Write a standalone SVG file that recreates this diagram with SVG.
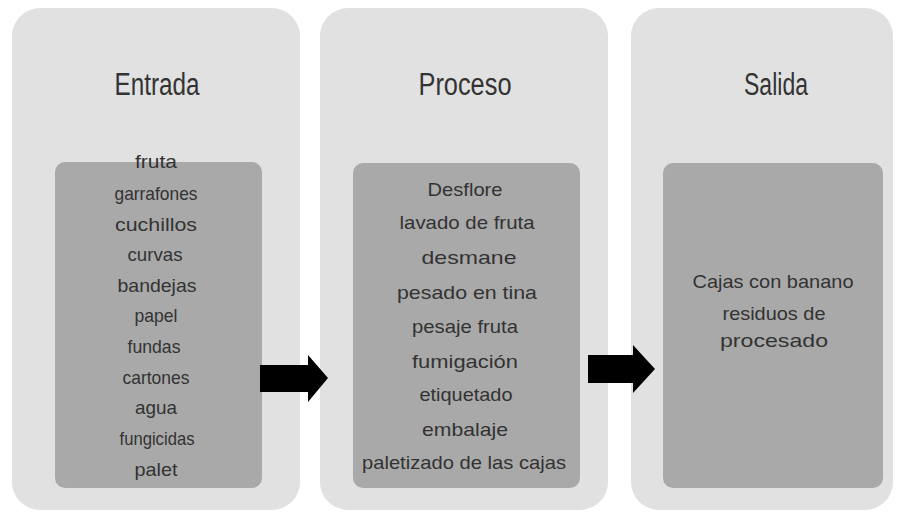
<svg xmlns="http://www.w3.org/2000/svg" width="904" height="516" viewBox="0 0 904 516">
<style>
.panel{fill:#e1e1e1;}
.inner{fill:#a9a9a9;}
.hdr{font-family:"Liberation Sans",Arial,sans-serif;font-size:31px;fill:#333;text-anchor:middle;}
.txt{font-family:"Liberation Sans",Arial,sans-serif;font-size:19px;fill:#333;text-anchor:middle;}
.arrow{fill:#000;}
</style>
<rect width="904" height="516" fill="#ffffff"/>
<g id="entrada">
<rect class="panel" x="12" y="8" width="288" height="502" rx="28"/>
<rect class="inner" x="55" y="162" width="207" height="326" rx="10"/>
<text class="hdr" x="157" y="95" textLength="85" lengthAdjust="spacingAndGlyphs">Entrada</text>
<text class="txt" x="156" y="168" textLength="42" lengthAdjust="spacingAndGlyphs">fruta</text>
<text class="txt" x="156" y="200" textLength="83" lengthAdjust="spacingAndGlyphs">garrafones</text>
<text class="txt" x="156" y="231" textLength="82" lengthAdjust="spacingAndGlyphs">cuchillos</text>
<text class="txt" x="155" y="261" textLength="55" lengthAdjust="spacingAndGlyphs">curvas</text>
<text class="txt" x="157" y="292" textLength="79" lengthAdjust="spacingAndGlyphs">bandejas</text>
<text class="txt" x="156" y="322" textLength="43" lengthAdjust="spacingAndGlyphs">papel</text>
<text class="txt" x="154" y="353" textLength="53" lengthAdjust="spacingAndGlyphs">fundas</text>
<text class="txt" x="156" y="384" textLength="67" lengthAdjust="spacingAndGlyphs">cartones</text>
<text class="txt" x="156" y="414" textLength="42" lengthAdjust="spacingAndGlyphs">agua</text>
<text class="txt" x="157" y="445" textLength="75" lengthAdjust="spacingAndGlyphs">fungicidas</text>
<text class="txt" x="156" y="476" textLength="43" lengthAdjust="spacingAndGlyphs">palet</text>
</g>
<g id="proceso">
<rect class="panel" x="320" y="8" width="288" height="502" rx="28"/>
<rect class="inner" x="353" y="163" width="227" height="325" rx="10"/>
<text class="hdr" x="465" y="95" textLength="93" lengthAdjust="spacingAndGlyphs">Proceso</text>
<text class="txt" x="465" y="196" textLength="75" lengthAdjust="spacingAndGlyphs">Desflore</text>
<text class="txt" x="467" y="229" textLength="135" lengthAdjust="spacingAndGlyphs">lavado de fruta</text>
<text class="txt" x="469" y="264" textLength="95" lengthAdjust="spacingAndGlyphs">desmane</text>
<text class="txt" x="467" y="299" textLength="140" lengthAdjust="spacingAndGlyphs">pesado en tina</text>
<text class="txt" x="465" y="333" textLength="106" lengthAdjust="spacingAndGlyphs">pesaje fruta</text>
<text class="txt" x="465" y="368" textLength="106" lengthAdjust="spacingAndGlyphs">fumigación</text>
<text class="txt" x="466" y="401" textLength="93" lengthAdjust="spacingAndGlyphs">etiquetado</text>
<text class="txt" x="465" y="436" textLength="86" lengthAdjust="spacingAndGlyphs">embalaje</text>
<text class="txt" x="464" y="469" textLength="204" lengthAdjust="spacingAndGlyphs">paletizado de las cajas</text>
</g>
<g id="salida">
<rect class="panel" x="631" y="8" width="262" height="502" rx="28"/>
<rect class="inner" x="663" y="163" width="220" height="325" rx="10"/>
<text class="hdr" x="776" y="95" textLength="64" lengthAdjust="spacingAndGlyphs">Salida</text>
<text class="txt" x="773" y="288" textLength="161" lengthAdjust="spacingAndGlyphs">Cajas con banano</text>
<text class="txt" x="774" y="320" textLength="103" lengthAdjust="spacingAndGlyphs">residuos de</text>
<text class="txt" x="774" y="347" textLength="108" lengthAdjust="spacingAndGlyphs">procesado</text>
</g>
<g id="connectors">
<polygon class="arrow" points="260,365 308,365 308,355 328,378 308,402 308,392 260,392"/>
<polygon class="arrow" points="588,355 633,355 633,345 655,369 633,393 633,383 588,383"/>
</g>
</svg>
